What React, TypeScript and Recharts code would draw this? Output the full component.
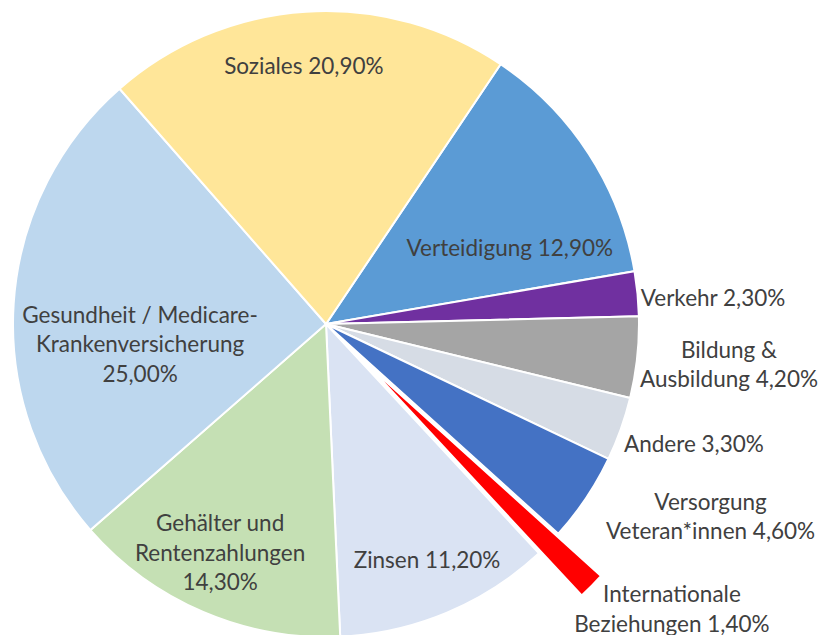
import { PieChart, Pie, Cell } from 'recharts';

// Bundeshaushalt-Ausgaben nach Bereich (Anteile in %)
const kategorien = [
  'Verteidigung',
  'Verkehr',
  'Bildung &\nAusbildung',
  'Andere',
  'Versorgung\nVeteran*innen',
  'Internationale\nBeziehungen',
  'Zinsen',
  'Gehälter und\nRentenzahlungen\n',
  'Gesundheit / Medicare-\nKrankenversicherung\n',
  'Soziales',
];
const anteile = [12.9, 2.3, 4.2, 3.3, 4.6, 1.4, 11.2, 14.3, 25.0, 20.9];
const farben = [
  '#5B9BD5', '#7030A0', '#A5A5A5', '#D6DCE5', '#4472C4',
  '#FF0000', '#DAE3F3', '#C5E0B4', '#BDD7EE', '#FFE699',
];
// Label-Positionen um (LX, LY): [Abstand, Winkel ab 12 Uhr im Uhrzeigersinn]
const labelPos: [number, number][] = [
  [198, 67.4], [387, 86.0], [404, 95.7], [386, 108.1], [429, 116.6],
  [447, 129.5], [256, 157.0], [252, 205.1], [188, 263.9], [260, 354.9],
];
const herausgezogen = 5;

const data = kategorien.map((name, i) => ({ name, wert: anteile[i] }));

const CX = 321;
const CY = 319;
const LX = 327;
const LY = 324;
const R = 313;
const START = 56.1;
const EXPLODE = 60;

const fmt = (v: number) => v.toFixed(2).replace('.', ',') + '%';

function labelText(i: number) {
  const name = kategorien[i];
  const full = name.endsWith('\n') ? name + fmt(anteile[i]) : name + ' ' + fmt(anteile[i]);
  return full.split('\n');
}

const renderLabel = (props: any) => {
  const i = props.index;
  const [r, ang] = labelPos[i];
  const rad = (ang * Math.PI) / 180;
  const x = LX + r * Math.sin(rad);
  const y = LY - r * Math.cos(rad);
  const lines = labelText(i);
  const lh = 29.5;
  return (
    <text
      key={'l' + i}
      x={x}
      y={y}
      textAnchor="middle"
      fill="#404040"
      fontSize={22.5}
      fontFamily="Lato, 'Open Sans', sans-serif"
    >
      {lines.map((t, k) => (
        <tspan key={k} x={x} y={y + (k - (lines.length - 1) / 2) * lh} dominantBaseline="central">
          {t}
        </tspan>
      ))}
    </text>
  );
};

// Mittelwinkel des herausgezogenen Segments
const total = anteile.reduce((a, b) => a + b, 0);
const vorher = anteile.slice(0, herausgezogen).reduce((a, b) => a + b, 0);
const mid = START - ((vorher + anteile[herausgezogen] / 2) / total) * 360;
const midRad = (mid * Math.PI) / 180;
const exCx = CX + EXPLODE * Math.cos(midRad);
const exCy = CY - EXPLODE * Math.sin(midRad);

export default function App() {
  return (
    <div style={{ position: 'absolute', left: 0, top: 0, width: 823, height: 635, background: '#fff' }}>
      <PieChart width={823} height={635}>
        <Pie
          data={data}
          dataKey="wert"
          nameKey="name"
          cx={CX}
          cy={CY}
          outerRadius={R}
          startAngle={START}
          endAngle={START - 360}
          stroke="#fff"
          strokeWidth={2}
          label={renderLabel}
          labelLine={false}
          isAnimationActive={false}
        >
          {data.map((d, i) => (
            <Cell
              key={d.name}
              fill={i === herausgezogen ? 'none' : farben[i]}
              stroke={i === herausgezogen ? 'none' : '#fff'}
            />
          ))}
        </Pie>
        <Pie
          data={data}
          dataKey="wert"
          nameKey="name"
          cx={exCx}
          cy={exCy}
          outerRadius={R}
          startAngle={START}
          endAngle={START - 360}
          isAnimationActive={false}
        >
          {data.map((d, i) => (
            <Cell
              key={d.name}
              fill={i === herausgezogen ? farben[i] : 'none'}
              stroke={i === herausgezogen ? '#fff' : 'none'}
              strokeWidth={2}
            />
          ))}
        </Pie>
      </PieChart>
    </div>
  );
}
